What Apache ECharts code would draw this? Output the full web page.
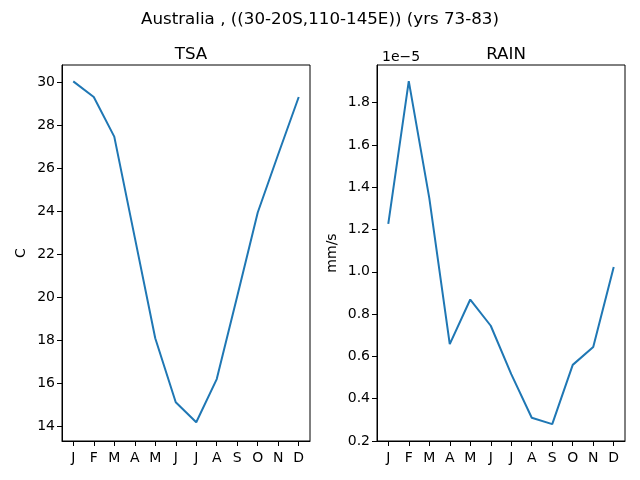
<!DOCTYPE html>
<html>
<head>
    <meta charset="utf-8" />
    <title>Australia TSA / RAIN</title>
    <script src="https://cdn.jsdelivr.net/npm/echarts@6/dist/echarts.min.js"></script>
    <style>
        html, body { margin: 0; padding: 0; background: #fff; }
        #chart { width: 640px; height: 480px; }
    </style>
</head>
<body>
    <div id="chart"></div>
    <script type="text/javascript">
        var months = ["J", "F", "M", "A", "M", "J", "J", "A", "S", "O", "N", "D"];
        // surface air temperature, C
        var tsa = [30.03, 29.30, 27.46, 22.77, 18.08, 15.10, 14.17, 16.18, 20.03, 23.93, 26.64, 29.30];
        // rainfall, in units of 1e-5 mm/s
        var rain = [1.227, 1.902, 1.350, 0.658, 0.869, 0.745, 0.516, 0.310, 0.280, 0.560, 0.644, 1.023];
        var tsaTicks = [14, 16, 18, 20, 22, 24, 26, 28, 30];
        var rainTicks = [0.2, 0.4, 0.6, 0.8, 1.0, 1.2, 1.4, 1.6, 1.8];
        var monthTicks = [0, 1, 2, 3, 4, 5, 6, 7, 8, 9, 10, 11];

        var font = "DejaVu Sans";
        var blue = "#1f77b4";

        function pairs(vals) {
            var out = [];
            for (var i = 0; i < vals.length; i++) {
                out.push([i, vals[i]]);
            }
            return out;
        }

        function xAxisFor(idx) {
            return {
                type: 'value',
                gridIndex: idx,
                min: -0.55,
                max: 11.55,
                axisLine: { show: true, onZero: false, lineStyle: { color: '#000', width: 1 } },
                axisTick: { show: true, length: 5, inside: false, customValues: monthTicks, lineStyle: { color: '#000' } },
                axisLabel: {
                    customValues: monthTicks,
                    color: '#000', fontFamily: font, fontSize: 14, margin: 10,
                    formatter: function (v) { return months[Math.round(v)]; }
                },
                splitLine: { show: false }
            };
        }

        function yAxisFor(idx, lo, hi, ticks, name, digits) {
            return {
                type: 'value',
                gridIndex: idx,
                min: lo,
                max: hi,
                name: name,
                nameLocation: 'middle',
                nameGap: digits ? 38 : 34,
                nameTextStyle: { color: '#000', fontFamily: font, fontSize: 14 },
                axisLine: { show: true, onZero: false, lineStyle: { color: '#000', width: 1 } },
                axisTick: { show: true, length: 5, inside: false, customValues: ticks, lineStyle: { color: '#000' } },
                axisLabel: {
                    customValues: ticks,
                    color: '#000', fontFamily: font, fontSize: 14, margin: 7,
                    formatter: function (v) { return v.toFixed(digits); }
                },
                splitLine: { show: false }
            };
        }

        var chart = echarts.init(document.getElementById("chart"), null, { renderer: 'canvas' });
        var option = {
            backgroundColor: '#fff',
            animation: false,
            title: [
                { text: 'Australia , ((30-20S,110-145E)) (yrs 73-83)', left: 'center', top: 6,
                  textStyle: { fontFamily: font, fontSize: 16.7, fontWeight: 'normal', color: '#000' } },
                { text: 'TSA', left: 186, top: 41, textAlign: 'center',
                  textStyle: { fontFamily: font, fontSize: 16.7, fontWeight: 'normal', color: '#000' } },
                { text: 'RAIN', left: 501, top: 41, textAlign: 'center',
                  textStyle: { fontFamily: font, fontSize: 16.7, fontWeight: 'normal', color: '#000' } },
                { text: '1e\u22125', left: 377, top: 45,
                  textStyle: { fontFamily: font, fontSize: 14, fontWeight: 'normal', color: '#000' } }
            ],
            grid: [
                { left: 62, right: 330, top: 65, bottom: 39, show: true, borderColor: '#000', borderWidth: 1 },
                { left: 377, right: 15, top: 65, bottom: 39, show: true, borderColor: '#000', borderWidth: 1 }
            ],
            xAxis: [xAxisFor(0), xAxisFor(1)],
            yAxis: [
                yAxisFor(0, 13.3, 30.79, tsaTicks, 'C', 0),
                yAxisFor(1, 0.2, 1.978, rainTicks, 'mm/s', 1)
            ],
            series: [
                { type: 'line', xAxisIndex: 0, yAxisIndex: 0, data: pairs(tsa), showSymbol: false,
                  lineStyle: { color: blue, width: 2 }, itemStyle: { color: blue } },
                { type: 'line', xAxisIndex: 1, yAxisIndex: 1, data: pairs(rain), showSymbol: false,
                  lineStyle: { color: blue, width: 2 }, itemStyle: { color: blue } }
            ]
        };
        chart.setOption(option);
    </script>
</body>
</html>
